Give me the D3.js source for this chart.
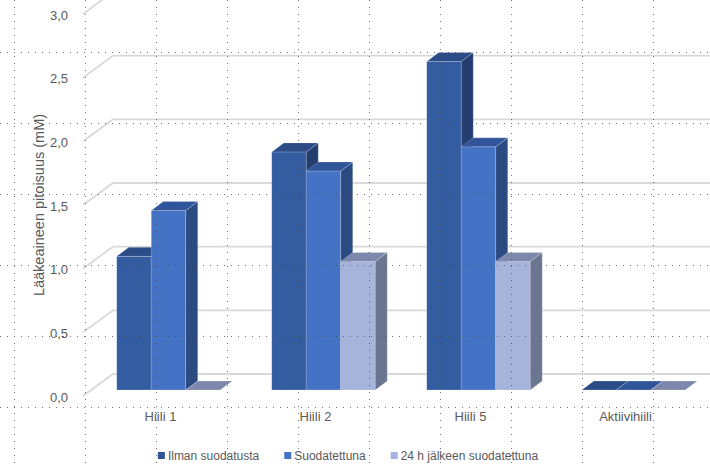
<!DOCTYPE html>
<html>
<head>
<meta charset="utf-8">
<script src="https://cdn.jsdelivr.net/npm/d3@7"></script>
<style>
  body { margin: 0; background: #fff; }
  svg { display: block; font-family: "Liberation Sans", Arial, sans-serif; }
</style>
</head>
<body>
<svg id="chart" width="710" height="467"></svg>
<script>
// data
const categories = ["Hiili 1", "Hiili 2", "Hiili 5", "Aktiivihiili"];
const seriesNames = ["Ilman suodatusta", "Suodatettuna", "24 h jälkeen suodatettuna"];
const ilman = [1.05, 1.87, 2.58, 0];
const suodatettuna = [1.41, 1.72, 1.91, 0];
const jalkeen24h = [0, 1.01, 1.01, 0];
const yTicks = [0, 0.5, 1, 1.5, 2, 2.5, 3];

const seriesValues = [ilman, suodatettuna, jalkeen24h];
const colors = [
    {front: "#345ca0", top: "#2c4c88", side: "#233d6e", key: "#2f5597"},
    {front: "#4472c4", top: "#31559b", side: "#2b4a82", key: "#4472c4"},
    {front: "#a6b4db", top: "#7d88ac", side: "#6a7591", key: "#a5b4dc"}
];

const width = 710, height = 467;
const svg = d3.select("#chart");
const fmt = d => d3.format(".1f")(d).replace(".", ",");

// oblique 3d: wall depth, bar placement inside depth
const wall = {dx: 30, dy: -22};
const barFront = {dx: 8, dy: -6};
const barDepth = {dx: 12, dy: -9};

const x = d3.scaleBand().domain(categories).range([83, 703]);
const y = d3.scaleLinear().domain([0, 3]).range([396, 14]);
const groupW = 103.5;
const inner = d3.scaleBand().domain(d3.range(seriesNames.length)).range([0, groupW]);

// gridlines (side wall diagonal + back wall)
const grid = svg.append("g");
yTicks.forEach(t => {
    const yf = y(t);
    grid.append("path")
        .attr("d", `M${x.range()[0]},${yf}L${x.range()[0] + wall.dx},${yf + wall.dy}H${x.range()[1] + wall.dx}`)
        .attr("fill", "none")
        .attr("stroke", "#d9d9d9")
        .attr("stroke-width", 1.8);
});

// y tick labels
svg.append("g").selectAll("text")
    .data(yTicks)
    .join("text")
    .attr("x", 68)
    .attr("y", d => y(d) + 1)
    .attr("dy", "0.35em")
    .attr("text-anchor", "end")
    .attr("fill", "#595959")
    .style("font-size", "13px")
    .text(fmt);

// y title
svg.append("text")
    .attr("transform", "translate(44,205) rotate(-90)")
    .attr("text-anchor", "middle")
    .attr("fill", "#595959")
    .style("font-size", "14.5px")
    .text("Lääkeaineen pitoisuus (mM)");

// bars
const bars = svg.append("g");
categories.forEach((cat, ci) => {
    const gx = x(cat) + (x.bandwidth() - groupW) / 2 + barFront.dx;
    seriesValues.forEach((vals, si) => {
        const v = vals[ci];
        const c = colors[si];
        const x0 = gx + inner(si), w = inner.bandwidth();
        const yb = y(0) + barFront.dy, yt = y(v) + barFront.dy;
        const dx = barDepth.dx, dy = barDepth.dy;
        const g = bars.append("g")
            .attr("stroke", "rgba(255,255,255,0.35)")
            .attr("stroke-width", 0.6);
        if (v > 0) {
            g.append("rect")
                .attr("x", x0).attr("y", yt)
                .attr("width", w).attr("height", yb - yt)
                .attr("fill", c.front);
            g.append("path")
                .attr("d", `M${x0 + w},${yt}L${x0 + w + dx},${yt + dy}L${x0 + w + dx},${yb + dy}L${x0 + w},${yb}Z`)
                .attr("fill", c.side);
        }
        g.append("path")
            .attr("d", `M${x0},${yt}L${x0 + dx},${yt + dy}L${x0 + w + dx},${yt + dy}L${x0 + w},${yt}Z`)
            .attr("fill", c.top);
    });
});

// category labels
svg.append("g").selectAll("text")
    .data(categories)
    .join("text")
    .attr("x", d => x(d) + x.bandwidth() / 2)
    .attr("y", 421)
    .attr("text-anchor", "middle")
    .attr("fill", "#595959")
    .style("font-size", "13px")
    .text(d => d);

// legend
const legend = svg.append("g");
let lx = 0;
seriesNames.forEach((name, i) => {
    const item = legend.append("g").attr("transform", `translate(${lx},0)`);
    item.append("rect")
        .attr("x", 0).attr("y", 452)
        .attr("width", 7).attr("height", 7)
        .attr("fill", colors[i].key);
    const t = item.append("text")
        .attr("x", 10).attr("y", 460)
        .attr("fill", "#595959")
        .style("font-size", "12px")
        .text(name);
    lx += 10 + t.node().getComputedTextLength() + 25;
});
const legendW = lx - 25;
legend.attr("transform", `translate(${348 - legendW / 2},0)`);

// dotted guide overlay
const guides = svg.append("g")
    .attr("stroke", "#444")
    .attr("stroke-width", 1)
    .attr("stroke-dasharray", "1,6")
    .attr("opacity", 0.75);
d3.range(14.5, width, 71).forEach(gx => {
    guides.append("line").attr("x1", gx).attr("x2", gx).attr("y1", 0).attr("y2", height);
});
d3.range(52.5, height, 71).forEach(gy => {
    guides.append("line").attr("x1", 0).attr("x2", width).attr("y1", gy).attr("y2", gy);
});
</script>
</body>
</html>
